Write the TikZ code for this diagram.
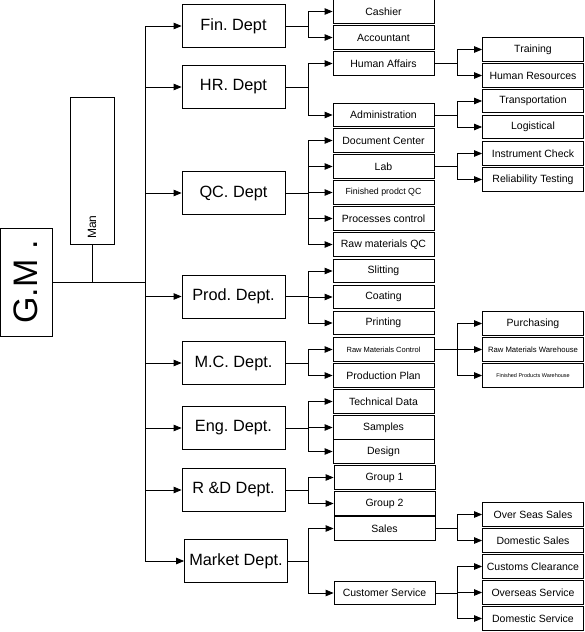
\documentclass[tikz,border=0pt]{standalone}
\usepackage{fontspec}
\setmainfont{Liberation Sans}
\usetikzlibrary{arrows.meta,calc,positioning}
\frenchspacing
\tikzset{
    box/.style={
    rectangle,draw=black,line width=0.8pt,inner sep=0pt
    },
    dept/.style={
    box,minimum width=103pt,minimum height=43pt,font=\fontsize{16.3}{18}\selectfont
    },
    unit/.style={
    box,minimum width=101pt,minimum height=23.5pt,font=\fontsize{10.5}{12}\selectfont
    },
    arr/.style={
    line width=0.8pt,-{Triangle[length=8pt,width=6.5pt]}
    },
    link/.style={
    line width=0.8pt
    },
}
\begin{document}
\begin{tikzpicture}[x=1pt,y=-1pt]
   \useasboundingbox (0,0) rectangle (585,632);
   % top of the chart
   \node[box,minimum width=52pt,minimum height=108pt] (gm) at (26,282) {\rotatebox{90}{\fontsize{34}{36}\selectfont G.M .}};
   \node[box,minimum width=44pt,minimum height=147pt] (man) at (92,170.5) {};
   \node[rotate=90,anchor=west,inner sep=0pt,font=\fontsize{12}{14}\selectfont] (mantext) at (92,239) {Man};
   \coordinate (trunk) at (145,0);
   \coordinate (b1) at (308,0);
   \coordinate (b2) at (457,0);

   % departments
   \node[dept] (fin) at (233.5,26) {Fin. Dept};
   \node[dept] (hr) at (233.5,87) {HR. Dept};
   \node[dept] (qc) at (233.5,193) {QC. Dept};
   \node[dept] (prod) at (233.5,296.5) {Prod. Dept.};
   \node[dept] (mc) at (233.5,363) {M.C. Dept.};
   \node[dept] (eng) at (233.5,428) {Eng. Dept.};
   \node[dept] (rd) at (233.5,490) {R \&D Dept.};
   \node[dept] (mkt) at (236,561) {Market Dept.};

   % sections
   \node[unit] (cash) at (383.5,11.5) {Cashier};
   \node[unit] (acc) at (383.5,37.5) {Accountant};
   \node[unit] (ha) at (383.5,63.5) {Human Affairs};
   \node[unit] (adm) at (383.5,115) {Administration};
   \node[unit] (doc) at (383.5,140.5) {Document Center};
   \node[unit] (lab) at (383.5,166.5) {Lab};
   \node[unit,font=\fontsize{8.8}{10}\selectfont] (fqc) at (383.5,192.5) {Finished prodct QC};
   \node[unit] (pc) at (383.5,218.5) {Processes control};
   \node[unit] (rqc) at (383.5,244.5) {Raw materials QC};
   \node[unit] (slit) at (383.5,271) {Slitting};
   \node[unit] (coat) at (383.5,297) {Coating};
   \node[unit] (print) at (383.5,323) {Printing};
   \node[unit,font=\fontsize{7.5}{9}\selectfont] (rmc) at (383.5,349.5) {Raw Materials Control};
   \node[unit] (pp) at (383.5,375.5) {Production Plan};
   \node[unit] (td) at (383.5,401.5) {Technical Data};
   \node[unit] (samp) at (383.5,427.5) {Samples};
   \node[unit] (des) at (383.5,451.5) {Design};
   \node[unit] (g1) at (384.5,477.5) {Group 1};
   \node[unit] (g2) at (384.5,503.5) {Group 2};
   \node[unit] (sales) at (384.5,528.5) {Sales};
   \node[unit] (cs) at (384.5,593) {Customer Service};

   % units
   \node[unit] (train) at (533,49.5) {Training};
   \node[unit] (hres) at (533,75.5) {Human Resources};
   \node[unit] (trans) at (533,101) {Transportation};
   \node[unit] (log) at (533,127) {Logistical};
   \node[unit] (ic) at (533,153.5) {Instrument Check};
   \node[unit] (rt) at (533,179.5) {Reliability Testing};
   \node[unit] (pur) at (533,323.5) {Purchasing};
   \node[unit,font=\fontsize{7.7}{9}\selectfont] (rmw) at (533,349.5) {Raw Materials Warehouse};
   \node[unit,font=\fontsize{5.5}{7}\selectfont] (fpw) at (533,375.5) {Finished Products Warehouse};
   \node[unit] (oss) at (533,514.5) {Over Seas Sales};
   \node[unit] (dsal) at (533,540.5) {Domestic Sales};
   \node[unit] (cc) at (533,566.5) {Customs Clearance};
   \node[unit] (oser) at (533,592.5) {Overseas Service};
   \node[unit] (dser) at (533,618.5) {Domestic Service};

   % connections
   \draw[link] (gm.east) -- (gm.east -| trunk);
   \draw[link] (man.south) -- (man.south |- gm.east);
   \foreach \d in {fin,hr,qc,prod,mc,eng,rd,mkt}
      \draw[arr] (gm.east -| trunk) |- (\d.west);
   \foreach \p/\c in {fin/cash,fin/acc,hr/ha,hr/adm,qc/doc,qc/lab,qc/fqc,qc/pc,qc/rqc,
                      prod/slit,prod/coat,prod/print,mc/rmc,mc/pp,eng/td,eng/samp,eng/des,
                      rd/g1,rd/g2,mkt/sales,mkt/cs}
      \draw[arr] (\p.east) -- (\p.east -| b1) |- (\c.west);
   \foreach \p/\c in {ha/train,ha/hres,adm/trans,adm/log,lab/ic,lab/rt,rmc/pur,rmc/rmw,rmc/fpw,
                      sales/oss,sales/dsal,cs/cc,cs/oser,cs/dser}
      \draw[arr] (\p.east) -- (\p.east -| b2) |- (\c.west);
\end{tikzpicture}
\end{document}
